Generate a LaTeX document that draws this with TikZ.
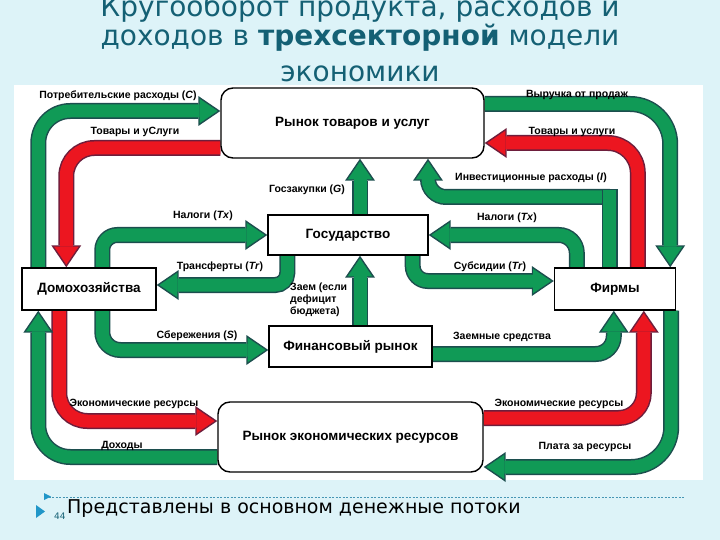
\documentclass[tikz,border=0pt]{standalone}
\usepackage{fontspec}
\setmainfont{Liberation Sans}
\newfontfamily\titlefont{DejaVu Sans}
\usetikzlibrary{arrows.meta,calc}
\definecolor{bgc}{RGB}{221,243,248}
\definecolor{titc}{RGB}{20,96,116}
\definecolor{gfill}{RGB}{16,154,86}
\definecolor{gdark}{RGB}{28,78,78}
\definecolor{rfill}{RGB}{236,22,32}
\definecolor{rdark}{RGB}{110,30,60}
\definecolor{bullc}{RGB}{32,150,200}
\definecolor{dashc}{RGB}{70,150,180}
\pgfdeclarelayer{flows}
\pgfsetlayers{flows,main}
\tikzset{
  box/.style={draw=black, line width=1.4pt, fill=white, inner sep=0pt,
    font=\bfseries\fontsize{13.5}{15}\selectfont},
  rbox/.style={box, rounded corners=12pt},
  lab/.style={font=\bfseries\fontsize{10.5}{12}\selectfont, inner sep=0pt},
  gout/.style={draw=gdark, line width=16pt, -{Triangle[width=30pt,length=22pt,line width=0pt]}},
  gin/.style={draw=gfill, line width=13pt, shorten >=2.7pt, -{Triangle[width=24.5pt,length=18pt,line width=0pt]}},
  rout/.style={gout, draw=rdark},
  rin/.style={gin, draw=rfill},
  ttl/.style={inner sep=0pt, anchor=base, text=titc, font=\titlefont\fontsize{28}{32}\selectfont},
}
\newcommand\gflow[2][]{\draw[gout,#1] #2; \draw[gin,#1] #2;}
\newcommand\rflow[2][]{\draw[rout,#1] #2; \draw[rin,#1] #2;}
\begin{document}
\begin{tikzpicture}[x=1pt,y=-1pt]
\useasboundingbox (0,0) rectangle (720,540);
% boxes
\node[rbox, minimum width=263pt, minimum height=70pt] (tov) at (352.5,123) {Рынок товаров и услуг};
\node[box, minimum width=160pt, minimum height=40pt] (gos) at (348,235) {Государство};
\node[box, minimum width=134pt, minimum height=42pt] (dom) at (89,289) {Домохозяйства};
\node[box, minimum width=121pt, minimum height=42pt] (firm) at (615,289) {Фирмы};
\node[box, minimum width=163pt, minimum height=41pt] (fin) at (350.5,346.5) {Финансовый рынок};
\node[rbox, minimum width=265pt, minimum height=70pt] (res) at (350.5,437) {Рынок экономических ресурсов};
\begin{pgfonlayer}{flows}
\fill[bgc] (0,0) rectangle (720,540);
\fill[white] (14,85) rectangle (703,480);
% left side
\gflow[rounded corners=32pt]{($(dom.north west)+(17,0)$) |- (tov.west |- 0,111)}
\rflow[rounded corners=28pt]{(tov.west |- 0,148) -| ($(dom.north west)+(45,0)$)}
\gflow[rounded corners=15pt]{($(dom.north west)+(81,0)$) |- (gos.west |- 0,235)}
\gflow[rounded corners=12pt]{($(gos.south west)+(20,0)$) |- (dom.east |- 0,285)}
\gflow[rounded corners=18pt]{($(dom.south west)+(81,0)$) |- (fin.west |- 0,350)}
\rflow[rounded corners=28pt]{($(dom.south west)+(38,0)$) |- (res.west |- 0,421)}
\gflow[rounded corners=32pt]{(res.west |- 0,457) -| ($(dom.south west)+(17,0)$)}
% centre
\gflow{(gos.north -| 360,0) -- (tov.south -| 360,0)}
\gflow{(fin.north -| 360,0) -- (gos.south -| 360,0)}
% right side
\gflow[rounded corners=40pt]{(tov.east |- 0,104) -| ($(firm.north east)+(-6,0)$)}
\rflow[rounded corners=30pt]{($(firm.north west)+(84,0)$) |- (tov.east |- 0,143)}
\coordinate (i0) at ($(firm.north west)+(56,0)$);
\gflow[rounded corners=18pt]{(i0 |- 0,197) -- (428,197) -- (tov.south -| 428,0)}
\draw[gdark, line width=16pt] (i0) -- (i0 |- 0,189);
\draw[gfill, line width=13pt] (i0) -- (i0 |- 0,190.5);
\gflow[rounded corners=18pt]{($(firm.north west)+(23,0)$) |- (gos.east |- 0,235)}
\gflow[rounded corners=15pt]{($(gos.south east)+(-16,0)$) |- (firm.west |- 0,281)}
\gflow[rounded corners=18pt]{(fin.east |- 0,354) -| ($(firm.south west)+(60,0)$)}
\rflow[rounded corners=25pt]{(res.east |- 0,418) -| ($(firm.south west)+(90,0)$)}
\gflow[rounded corners=40pt]{($(firm.south east)+(-5,0)$) |- (res.east |- 0,467)}
\end{pgfonlayer}
% labels
\node[lab] (l1) at (118,96) {Потребительские расходы (\textit{C})};
\node[lab] (l2) at (135,132) {Товары и уСлуги};
\node[lab] (l3) at (203,216) {Налоги (\textit{Tx})};
\node[lab] (l4) at (220,267) {Трансферты (\textit{Tr})};
\node[lab] (l5) at (307,190) {Госзакупки (\textit{G})};
\node[lab, align=left, anchor=north west] (l6) at (290,283) {Заем (если\\дефицит\\бюджета)};
\node[lab] (l7) at (197,336) {Сбережения (\textit{S})};
\node[lab] (l8) at (134,404) {Экономические ресурсы};
\node[lab] (l9) at (122,446) {Доходы};
\node[lab] (r1) at (577,95) {Выручка от продаж};
\node[lab] (r2) at (572,132) {Товары и услуги};
\node[lab] (r3) at (531,178) {Инвестиционные расходы (\textit{I})};
\node[lab] (r4) at (507,218) {Налоги (\textit{Tx})};
\node[lab] (r5) at (490,267) {Субсидии (\textit{Tr})};
\node[lab] (r6) at (502,337) {Заемные средства};
\node[lab] (r7) at (559,404) {Экономические ресурсы};
\node[lab] (r8) at (585,447) {Плата за ресурсы};
% title
\node[ttl] (t1) at (360,17) {Кругооборот продукта, расходов и};
\node[ttl] (t2) at (360,46) {доходов в \textbf{трехсекторной} модели};
\node[ttl] (t3) at (360,82) {экономики};
% footer
\draw[dashc, line width=0.6pt, dash pattern=on 2pt off 1.5pt] (45,497) -- (685,497);
\fill[bullc] (44,493) -- (51,496.5) -- (44,500) -- cycle;
\fill[bullc] (36,505) -- (45,511.5) -- (36,518) -- cycle;
\node[anchor=base west, inner sep=0pt, text=titc, font=\titlefont\fontsize{9}{10}\selectfont] (pg) at (54,519) {44};
\node[anchor=base west, inner sep=0pt, font=\titlefont\fontsize{19}{22}\selectfont] (note) at (67,513) {Представлены в основном денежные потоки};
\end{tikzpicture}
\end{document}
